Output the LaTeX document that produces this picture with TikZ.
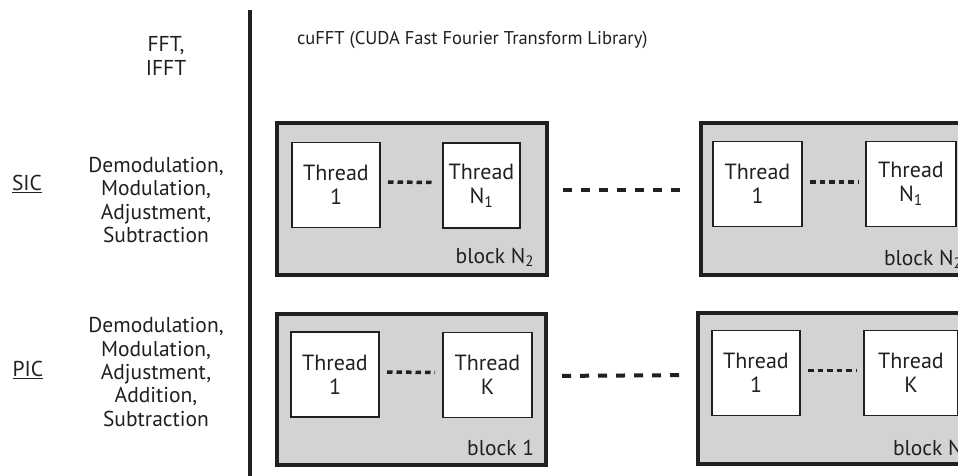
\documentclass[tikz,border=0pt]{standalone}
\usepackage{fontspec}
\setmainfont{PT Sans}
\definecolor{blk}{HTML}{231F20}
\definecolor{blockgray}{HTML}{D1D3D4}
\begin{document}
\begin{tikzpicture}[x=1pt,y=-1pt,
  every node/.style={inner sep=0pt, outer sep=0pt, text=blk},
  lbl/.style={font=\fontsize{21.5}{23.3}\selectfont, align=center},
  small/.style={font=\fontsize{18.5}{22}\selectfont},
  blockbox/.style={draw=blk, line width=3.5pt, fill=blockgray, minimum width=270pt, minimum height=152pt},
  thr/.style={draw=blk, line width=1.5pt, fill=white, minimum height=85pt, align=center, font=\fontsize{22}{24}\selectfont},
  dots/.style={draw=blk, line width=3.5pt, dash pattern=on 5.5pt off 4pt, shorten <=8pt, shorten >=8pt},
  longdash/.style={draw=blk, line width=4pt, dash pattern=on 9pt off 9pt, shorten <=16pt, shorten >=13pt}
]
\clip (0,0) rectangle (958,475);
\fill[white] (0,0) rectangle (958,475);

% vertical separator
\coordinate (vtop) at (250,10);
\coordinate (vbot) at (250,480);
\draw[blk, line width=3.5pt] (vtop) -- (vbot);

% left labels
\node[lbl] (fft) at (166,56) {FFT,\\IFFT};
\node[lbl] (sictxt) at (156,200) {Demodulation,\\Modulation,\\Adjustment,\\Subtraction};
\node[lbl] (pictxt) at (156,372) {Demodulation,\\Modulation,\\Adjustment,\\Addition,\\Subtraction};
\node[lbl] (sic) at (27,184) {\underline{SIC}};
\node[lbl] (pic) at (28,370) {\underline{PIC}};

\node[small, anchor=west] (cufft) at (297,40) {cuFFT (CUDA Fast Fourier Transform Library)};

% top row
\node[blockbox] (b1) at (412,199) {};
\node[blockbox] (b2) at (836,199) {};
\node[thr, minimum width=88pt] (t11) at (336,185) {Thread\\1};
\node[thr, minimum width=77pt] (t12) at (481.5,185.5) {Thread\\N\textsubscript{1}};
\node[thr, minimum width=89pt] (t21) at (757.5,184) {Thread\\1};
\node[thr, minimum width=90pt] (t22) at (911,184) {Thread\\N\textsubscript{1}};
\node[lbl, anchor=base east] (bl1) at (534,263) {block N\textsubscript{2}};
\node[lbl, anchor=base west] (bl2) at (884,265) {block N\textsubscript{2}};

\draw[dots] ([yshift=3pt]t11.east) -- ([yshift=3pt]t12.west);
\draw[dots] ([yshift=2pt]t21.east) -- ([yshift=2pt]t22.west);
\draw[longdash] ([yshift=9pt]b1.east) -- ([yshift=9pt]b2.west);

% bottom row
\node[blockbox, minimum width=269pt, minimum height=151pt] (b3) at (411.5,389.5) {};
\node[blockbox, minimum width=269pt, minimum height=151pt] (b4) at (832.5,388.5) {};
\node[thr, minimum width=88pt] (t31) at (335,374.5) {Thread\\1};
\node[thr, minimum width=89pt] (t32) at (487.5,375) {Thread\\K};
\node[thr, minimum width=88pt] (t41) at (756,373) {Thread\\1};
\node[thr, minimum width=94pt] (t42) at (911,373) {Thread\\K};
\node[lbl, anchor=base east] (bl3) at (534,455) {block 1};
\node[lbl, anchor=base west] (bl4) at (893,455) {block N};

\draw[dots] ([yshift=2.5pt]t31.east) -- ([yshift=2.5pt]t32.west);
\draw[dots] ([yshift=2.5pt]t41.east) -- ([yshift=2.5pt]t42.west);
\draw[longdash] ([yshift=13.5pt]b3.east) -- ([yshift=13.5pt]b4.west);
\end{tikzpicture}
\end{document}
